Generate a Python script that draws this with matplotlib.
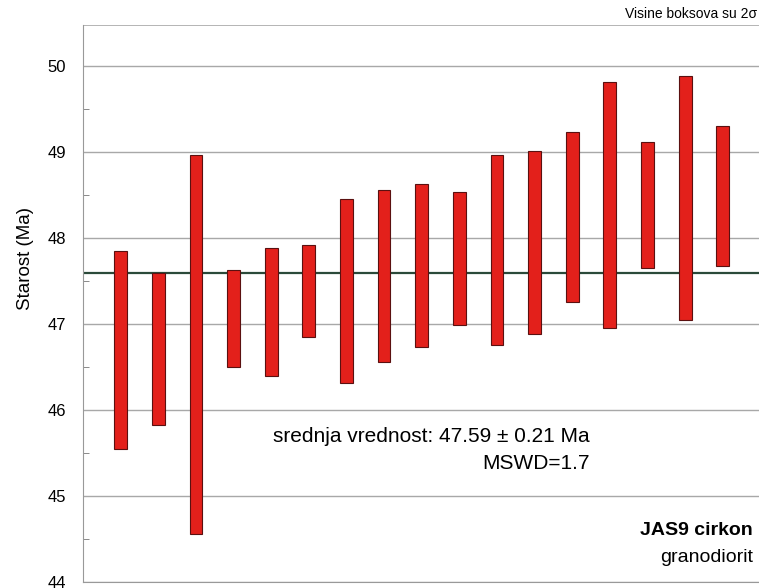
import numpy as np
import matplotlib
matplotlib.use("Agg")
import matplotlib.pyplot as plt
from matplotlib.ticker import MultipleLocator

plt.rcParams['font.family'] = ['Liberation Sans', 'DejaVu Sans']

# zircon spot ages: box top and bottom (2 sigma), Ma
box_top = [47.85, 47.60, 48.97, 47.63, 47.89, 47.92, 48.46, 48.56, 48.63,
           48.54, 48.97, 49.01, 49.24, 49.82, 49.12, 49.89, 49.31]
box_bottom = [45.55, 45.83, 44.56, 46.50, 46.40, 46.85, 46.31, 46.56, 46.73,
              46.99, 46.76, 46.89, 47.26, 46.95, 47.65, 47.05, 47.68]
mean_age = 47.59
mean_err = 0.21
mswd = 1.7

spots = np.arange(1, len(box_top) + 1)
heights = np.array(box_top) - np.array(box_bottom)

fig = plt.figure(figsize=(7.59, 5.88), dpi=100)
ax = fig.add_axes([0.1094, 0.0102, 0.89, 0.9473])

ax.set_ylim(44, 50.48)
ax.set_xlim(0, 17.95)

# grid
ax.yaxis.set_major_locator(MultipleLocator(1))
ax.yaxis.set_minor_locator(MultipleLocator(0.5))
ax.grid(axis='y', which='major', color='#a8a8a8', lw=1.0, zorder=0)
ax.axhline(50.48, color='#a8a8a8', lw=1.2, zorder=0)

# boxes
ax.bar(spots, heights, bottom=box_bottom, width=0.34, color='#e3201b',
       edgecolor='#5a1010', linewidth=0.8, zorder=3)

# weighted mean line
ax.axhline(mean_age, color='#2b4a3a', lw=1.6, zorder=2)

ax.set_xticks([])
ax.tick_params(axis='y', which='major', labelsize=12, length=0, pad=12)
ax.tick_params(axis='y', which='minor', direction='in', length=4, color='#777777')
for side in ['top', 'right']:
    ax.spines[side].set_visible(False)
ax.spines['left'].set_color('#999999')
ax.spines['bottom'].set_color('#999999')

ax.set_ylabel('Starost (Ma)', fontsize=13.5)
ax.yaxis.set_label_coords(-0.072, 0.58)

ax.text(0.750, 0.261, 'srednja vrednost: %.2f \u00b1 %.2f Ma' % (mean_age, mean_err),
        transform=ax.transAxes, ha='right', va='center', fontsize=15)
ax.text(0.750, 0.212, 'MSWD=%.1f' % mswd,
        transform=ax.transAxes, ha='right', va='center', fontsize=15)
ax.text(0.992, 0.092, 'JAS9 cirkon', transform=ax.transAxes, ha='right',
        va='center', fontsize=14, fontweight='bold')
ax.text(0.992, 0.044, 'granodiorit', transform=ax.transAxes, ha='right',
        va='center', fontsize=14)

fig.text(0.997, 0.977, 'Visine boksova su 2\u03c3', ha='right', va='center',
         fontsize=10)

fig.savefig('out.png', dpi=100)
